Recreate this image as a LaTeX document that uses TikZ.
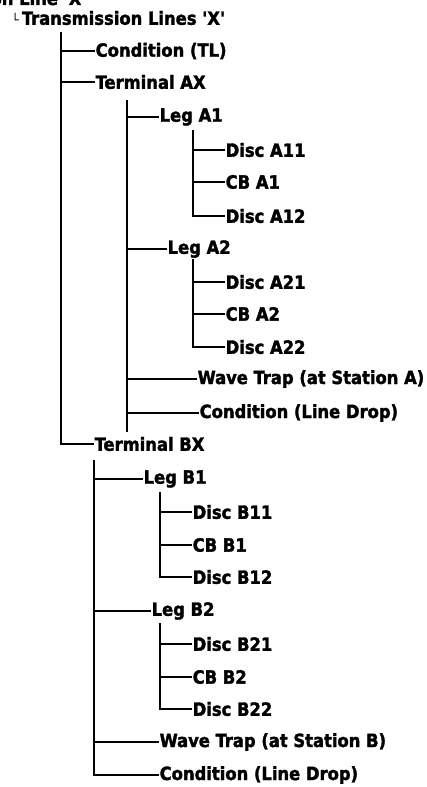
\documentclass[tikz,border=0pt]{standalone}
\usepackage{fontspec}
\setmainfont{DejaVu Sans Condensed}[BoldFont={DejaVu Sans Condensed Bold},BoldFeatures={FakeBold=1.8}]
\newfontfamily\boxfont{DejaVu Sans}
\usepackage{tikz}

\tikzset{
    item/.style={anchor=west,inner sep=0.5pt,font=\fontsize{18.2}{20}\selectfont\bfseries},
    branch/.style={line width=1.8pt}
}
\newcommand{\q}{\textquotesingle}

\begin{document}
\begin{tikzpicture}[x=1pt,y=-1pt]
    \useasboundingbox (0,0) rectangle (427,787);
    \clip (0,0) rectangle (427,787);
    % cut off heading above the picture
    \node[item,anchor=base east] (top) at (87,5) {Transmission Line \q X\q};
    \node[item] (root) at (11,18) {{\boxfont\fontsize{12}{12}\selectfont └}\hspace{3pt}Transmission Lines \q X\q};
    \foreach \n/\x/\l in{
    cond/{(95,51)}/{Condition (TL)},
    termA/{(95,82)}/{Terminal AX},
    legA1/{(159,117)}/{Leg A1},
    discA11/{(225,150)}/{Disc A11},
    cbA1/{(225,182)}/{CB A1},
    discA12/{(225,216)}/{Disc A12},
    legA2/{(167,249)}/{Leg A2},
    discA21/{(225,282)}/{Disc A21},
    cbA2/{(225,314)}/{CB A2},
    discA22/{(225,347)}/{Disc A22},
    waveA/{(197,379)}/{Wave Trap (at Station A)},
    condA/{(199,413)}/{Condition (Line Drop)},
    termB/{(94,444)}/{Terminal BX},
    legB1/{(143,479)}/{Leg B1},
    discB11/{(192,512)}/{Disc B11},
    cbB1/{(192,545)}/{CB B1},
    discB12/{(192,577)}/{Disc B12},
    legB2/{(151,611)}/{Leg B2},
    discB21/{(192,644)}/{Disc B21},
    cbB2/{(192,677)}/{CB B2},
    discB22/{(192,709)}/{Disc B22},
    waveB/{(159,742)}/{Wave Trap (at Station B)},
    condB/{(159,775)}/{Condition (Line Drop)}
    }
    {
            \node[item] (\n) at \x {\l};
        }
    % trunk tops
    \coordinate (t0) at (61,32);
    \coordinate (tA) at (127,100);
    \coordinate (tAend) at (127,432);
    \coordinate (tA1) at (193,130);
    \coordinate (tA2) at (193,259);
    \coordinate (tB) at (94,460);
    \coordinate (tB1) at (160,492);
    \coordinate (tB2) at (160,623);
    \foreach \c in {cond,termA,termB} \draw[branch] (t0) |- (\c.west);
    \foreach \c in {legA1,legA2,waveA,condA} \draw[branch] (tA) |- (\c.west);
    \draw[branch] (tA) -- (tAend);
    \foreach \c in {discA11,cbA1,discA12} \draw[branch] (tA1) |- (\c.west);
    \foreach \c in {discA21,cbA2,discA22} \draw[branch] (tA2) |- (\c.west);
    \foreach \c in {legB1,legB2,waveB,condB} \draw[branch] (tB) |- (\c.west);
    \foreach \c in {discB11,cbB1,discB12} \draw[branch] (tB1) |- (\c.west);
    \foreach \c in {discB21,cbB2,discB22} \draw[branch] (tB2) |- (\c.west);
\end{tikzpicture}
\end{document}
